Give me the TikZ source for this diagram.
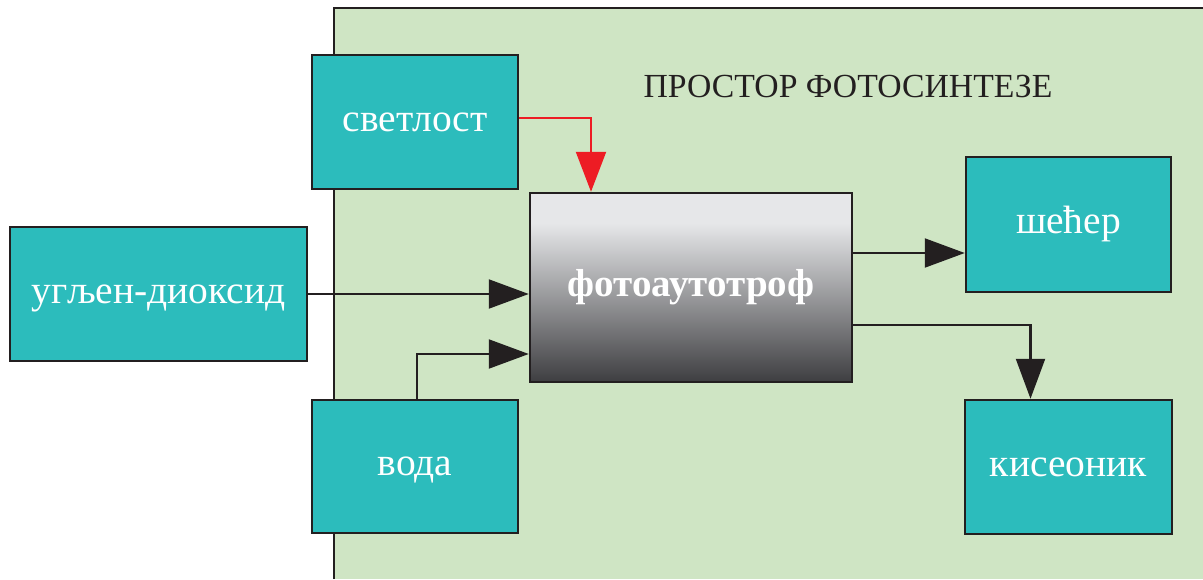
\documentclass[tikz,border=0pt]{standalone}
\usepackage{fontspec}
\setmainfont{Liberation Serif}
\usetikzlibrary{arrows.meta}
\definecolor{bg}{HTML}{CFE5C4}
\definecolor{teal}{HTML}{2CBCBC}
\definecolor{ink}{HTML}{231F20}
\definecolor{redline}{HTML}{ED1C24}
\definecolor{light}{HTML}{E6E7E9}
\definecolor{dark}{HTML}{3E3E41}
\pgfdeclareverticalshading{photoshade}{100bp}{color(0bp)=(dark); color(25bp)=(dark); color(67bp)=(light); color(75bp)=(light); color(100bp)=(light)}
\begin{document}
\begin{tikzpicture}[x=1pt,y=-1pt,
  box/.style={draw=ink, line width=2.5pt, fill=teal, text=white, inner sep=0pt,
    text height=18pt, text depth=0pt, font=\fontsize{39.5}{44}\selectfont},
  conn/.style={draw=ink, line width=2.2pt, -{Triangle[length=40pt,width=29pt]}},
  redconn/.style={draw=redline, line width=2.2pt, -{Triangle[length=40pt,width=30pt]}}]
\useasboundingbox (0,0) rectangle (1203,579);
\fill[bg] (334,8) rectangle (1203,579);
\draw[ink, line width=2.5pt] (334,579) -- (334,8) -- (1203,8);
\node[text=ink, font=\fontsize{33.7}{38}\selectfont] (title) at (848,86) {ПРОСТОР ФОТОСИНТЕЗЕ};
\node[box, minimum width=206pt, minimum height=134pt] (svetlost) at (415,122) {светлост};
\node[box, minimum width=297pt, minimum height=134pt] (co2) at (158.5,294) {угљен-диоксид};
\node[box, minimum width=206pt, minimum height=133pt] (voda) at (415,466.5) {вода};
\node[draw=ink, line width=2.5pt, shading=photoshade, text=white, inner sep=0pt,
  text height=18pt, text depth=0pt,
  minimum width=322pt, minimum height=189pt, font=\bfseries\fontsize{39}{44}\selectfont] (photo) at (691,287.5) {фотоаутотроф};
\node[box, minimum width=205pt, minimum height=135pt] (secer) at (1068.5,224.5) {шећер};
\node[box, minimum width=207pt, minimum height=134pt] (kiseonik) at (1068.5,467) {кисеоник};
\draw[redconn] ([yshift=4pt]svetlost.east) -| ([xshift=-100pt]photo.north);
\draw[conn] (co2.east) -- (co2.east -| photo.west);
\draw[conn] ([xshift=2pt]voda.north) |- ([yshift=-66.5pt]photo.west);
\coordinate (o1) at ([yshift=34.5pt]photo.east);
\draw[conn] (o1) -- (o1 -| secer.west);
\draw[conn] ([yshift=-37.5pt]photo.east) -| ([xshift=-38pt]kiseonik.north);
\end{tikzpicture}
\end{document}
